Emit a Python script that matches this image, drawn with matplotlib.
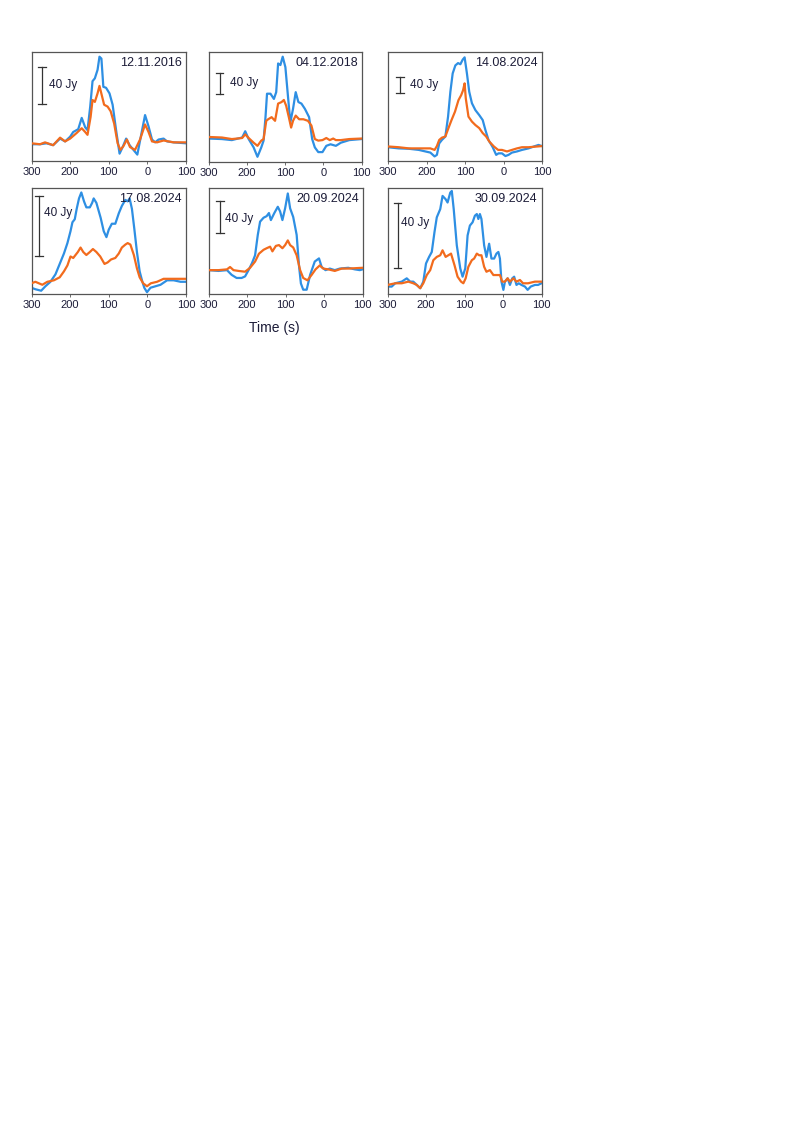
import matplotlib
matplotlib.use("Agg")
import matplotlib.pyplot as plt
import matplotlib.transforms as mtrans

plt.rcParams['font.family'] = ['Liberation Sans', 'DejaVu Sans']

# ---- data: time (s) and flux (Jy), blue / orange curves per date ----
dates = ['12.11.2016', '04.12.2018', '14.08.2024',
         '17.08.2024', '20.09.2024', '30.09.2024']

# 12.11.2016
t_b1 = [-300, -278, -261, -244, -226, -213, -200, -192, -179, -170, -161, -155, -148, -142, -136, -129,
        -124, -119, -114, -107, -98, -90, -81, -72, -64, -55, -46, -36, -26, -17, -6, 3, 12, 20, 29, 42,
        51, 68, 100]
f_b1 = [-1, -1, 0, -2, 5, 2, 7, 12, 15, 27, 17, 14, 39, 66, 69, 78,
        92, 90, 60, 59, 53, 41, 14, -11, -4, 5, -2, -7, -12, 7, 30, 18, 4, 1, 4, 5,
        2, 1, 0]
t_o1 = [-300, -278, -265, -244, -226, -213, -200, -183, -170, -161, -155, -147, -142, -136, -129, -124,
        -118, -112, -103, -95, -86, -77, -70, -62, -53, -45, -32, -19, -6, 3, 12, 25, 42, 68, 100]
f_o1 = [0, -1, 1, -2, 6, 2, 5, 11, 16, 12, 9, 28, 46, 44, 53, 61,
        51, 41, 39, 34, 21, 0, -7, -3, 4, -4, -7, 4, 20, 12, 2, 1, 3, 1, 1]

# 04.12.2018
t_b2 = [-300, -265, -239, -212, -204, -195, -182, -172, -162, -156, -151, -147, -138, -129, -123, -118,
        -112, -106, -99, -92, -86, -79, -72, -65, -57, -48, -37, -29, -22, -13, -2, 8, 19, 33, 46, 68, 100]
f_b2 = [-2, -3, -5, 0, 12, -3, -19, -37, -19, -6, 39, 84, 84, 74, 87, 142,
        139, 155, 135, 77, 29, 55, 87, 68, 65, 55, 39, -3, -19, -28, -28, -16, -13, -16, -10, -5, -3]
t_o2 = [-300, -265, -239, -212, -204, -195, -182, -172, -162, -156, -149, -144, -135, -126, -118, -109,
        -103, -97, -90, -84, -79, -72, -63, -52, -40, -31, -22, -13, -2, 8, 17, 26, 33, 46, 68, 100]
f_o2 = [1, 0, -3, -1, 6, -1, -10, -16, -6, -3, 32, 35, 39, 32, 65, 68,
        72, 61, 39, 19, 32, 42, 35, 35, 32, 23, -3, -6, -5, -1, -5, -2, -5, -5, -3, -2]

# 14.08.2024
t_b3 = [-300, -272, -246, -220, -203, -190, -179, -173, -167, -160, -151, -144, -138, -132, -125, -118,
        -112, -106, -101, -95, -89, -82, -73, -63, -54, -47, -39, -28, -19, -13, -4, 5, 13, 22, 35, 48,
        65, 82, 91, 100]
f_b3 = [0, -3, -4, -7, -11, -14, -24, -20, 10, 19, 28, 80, 145, 193, 214, 220,
        217, 229, 235, 193, 145, 115, 97, 84, 71, 45, 19, 0, -20, -16, -16, -23, -20, -14, -11, -7,
        -3, 3, 6, 3]
t_o3 = [-300, -272, -246, -220, -203, -190, -179, -173, -167, -160, -151, -143, -135, -126, -117, -110,
        -105, -101, -98, -91, -82, -73, -63, -54, -45, -37, -25, -14, -4, 9, 22, 35, 48, 65, 100]
f_o3 = [2, 0, -3, -3, -3, -3, -7, 3, 19, 25, 28, 50, 71, 93, 123, 136,
        149, 167, 128, 80, 67, 58, 50, 37, 28, 15, 2, -7, -7, -11, -7, -3, 0, 0, 3]

# 17.08.2024
t_b4 = [-300, -290, -275, -264, -251, -238, -227, -216, -207, -199, -194, -188, -183, -177, -171, -164,
        -158, -149, -143, -139, -132, -121, -113, -106, -100, -92, -83, -74, -66, -57, -51, -46, -40, -34,
        -27, -20, -14, -8, -1, 8, 21, 34, 51, 68, 86, 100]
f_b4 = [-3, -4, -5, -2, 1, 6, 13, 20, 27, 35, 41, 43, 50, 57, 61, 55,
        51, 51, 54, 57, 54, 44, 35, 31, 36, 40, 40, 47, 52, 56, 55, 57, 50, 37,
        21, 8, 2, -3, -6, -3, -2, -1, 2, 2, 1, 1]
t_o4 = [-300, -290, -272, -259, -242, -227, -216, -207, -199, -192, -186, -180, -173, -166, -158, -149,
        -141, -132, -122, -111, -103, -94, -83, -74, -66, -57, -51, -44, -35, -27, -20, -11, -1, 9, 25,
        42, 55, 72, 100]
f_o4 = [0, 1, -1, 1, 2, 4, 8, 12, 18, 17, 19, 21, 24, 21, 19, 21,
        23, 21, 18, 13, 14, 16, 17, 20, 24, 26, 27, 26, 19, 10, 4, 0, -2, 0, 1,
        3, 3, 3, 3]

# 20.09.2024
t_b5 = [-300, -274, -252, -240, -227, -214, -205, -196, -187, -179, -172, -166, -157, -149, -143, -138,
        -129, -120, -114, -108, -101, -94, -88, -80, -71, -65, -60, -54, -45, -36, -24, -13, -6, 4, 15,
        28, 41, 63, 80, 93, 100]
f_b5 = [-1, -2, -1, -7, -11, -11, -9, -1, 8, 18, 44, 61, 66, 68, 72, 63,
        72, 80, 74, 63, 78, 97, 78, 67, 44, 5, -18, -26, -26, -7, 10, 14, 3, -1, 1,
        -1, 1, 2, 0, -1, 0]
t_o5 = [-300, -274, -252, -244, -235, -222, -205, -192, -179, -169, -157, -149, -140, -134, -125, -117,
        -108, -101, -94, -88, -80, -71, -62, -54, -43, -32, -22, -11, -2, 11, 28, 46, 63, 100]
f_o5 = [-1, -1, 0, 3, -1, -2, -3, 2, 10, 20, 25, 27, 29, 23, 30, 31,
        27, 31, 37, 31, 28, 18, -1, -11, -14, -7, 0, 5, 1, 0, -2, 1, 1, 2]

# 30.09.2024
t_b6 = [-300, -289, -280, -263, -250, -241, -233, -224, -215, -207, -200, -192, -185, -178, -172, -163,
        -157, -149, -144, -137, -133, -128, -120, -111, -105, -98, -92, -86, -79, -73, -68, -64, -60, -56,
        -49, -43, -36, -30, -23, -17, -12, -8, -4, 1, 5, 12, 18, 24, 29, 35, 41, 48, 57, 64, 72, 83, 91, 100]
f_b6 = [-2, -2, 0, 1, 3, 1, 1, -1, -3, 1, 12, 16, 19, 31, 40, 45,
        53, 51, 49, 55, 56, 45, 23, 9, 4, 9, 29, 35, 37, 41, 42, 39, 42, 39,
        23, 16, 24, 15, 15, 18, 19, 15, 1, -4, 1, 3, -1, 3, 4, -1, 0, -1, -2, -4, -2, -1, -1, 0]
t_o6 = [-300, -280, -263, -246, -233, -224, -215, -207, -198, -189, -181, -172, -163, -157, -149, -142,
        -135, -126, -118, -109, -103, -97, -90, -81, -75, -68, -62, -56, -49, -43, -34, -25, -17, -8, -2,
        5, 12, 18, 27, 35, 44, 52, 65, 83, 100]
f_o6 = [-1, 0, 0, 1, 0, -1, -3, 0, 5, 8, 14, 16, 17, 20, 16, 17,
        18, 11, 4, 1, 0, 3, 10, 14, 15, 18, 17, 17, 10, 7, 8, 5, 5, 5, 1,
        1, 3, 1, 3, 1, 2, 0, 0, 1, 1]

blue = [(t_b1, f_b1), (t_b2, f_b2), (t_b3, f_b3), (t_b4, f_b4), (t_b5, f_b5), (t_b6, f_b6)]
orange = [(t_o1, f_o1), (t_o2, f_o2), (t_o3, f_o3), (t_o4, f_o4), (t_o5, f_o5), (t_o6, f_o6)]

# y range of each panel (Jy) and 40 Jy scale bar (bottom value)
ylims = [(-18.8, 97), (-47, 164), (-36, 249), (-7.2, 64), (-31.5, 104), (-6.5, 57.8)]
bar_bottom = [41.5, 84, 143, 18.5, 47, 9]
bar_x = [0.069, 0.072, 0.080, 0.047, 0.076, 0.065]
lab_x = [0.112, 0.140, 0.146, 0.078, 0.110, 0.090]
lab_y = [61.5, 104, 163, 47, 64, 36.8]

# panel boxes in pixels (left, top, right, bottom)
W, H = 797, 1127
boxes = [(31.5, 52, 186, 161), (208.5, 52, 361.5, 162), (388, 52, 542, 161),
         (31.5, 188, 186, 294), (208.5, 188, 362.5, 294), (387.5, 188, 541.5, 294)]

c_blue = '#2e8fe3'
c_orange = '#f26b1d'
txt = '#1c1c38'

fig = plt.figure(figsize=(W / 100, H / 100), dpi=100)

for i in range(6):
    l, t, r, b = boxes[i]
    ax = fig.add_axes([l / W, 1 - b / H, (r - l) / W, (b - t) / H])
    ax.plot(blue[i][0], blue[i][1], color=c_blue, lw=1.6, zorder=2)
    ax.plot(orange[i][0], orange[i][1], color=c_orange, lw=1.6, zorder=3)
    ax.set_xlim(-300, 100)
    ax.set_ylim(*ylims[i])
    ax.set_xticks([-300, -200, -100, 0, 100])
    ax.set_xticklabels(['300', '200', '100', '0', '100'])
    ax.set_yticks([])
    ax.tick_params(axis='x', length=2, width=0.6, pad=2, labelsize=8, colors='#555555',
                   labelcolor=txt)
    for s in ax.spines.values():
        s.set_color('#555555')
        s.set_linewidth(0.9)

    ax.text(0.975, 0.9, dates[i], transform=ax.transAxes, ha='right', va='center',
            fontsize=9, color=txt)

    # 40 Jy scale bar
    tr = mtrans.blended_transform_factory(ax.transAxes, ax.transData)
    y0 = bar_bottom[i]
    ax.plot([bar_x[i], bar_x[i]], [y0, y0 + 40], color='#333333', lw=0.9, transform=tr)
    for yy in (y0, y0 + 40):
        ax.plot([bar_x[i] - 0.025, bar_x[i] + 0.025], [yy, yy], color='#333333', lw=0.9,
                transform=tr)
    ax.text(lab_x[i], lab_y[i], '40 Jy', transform=tr, ha='left', va='center',
            fontsize=8.5, color=txt)

fig.text(274 / W, 1 - 328 / H, 'Time (s)', ha='center', va='center', fontsize=10, color=txt)

fig.savefig('out.png', dpi=100, facecolor='white')
